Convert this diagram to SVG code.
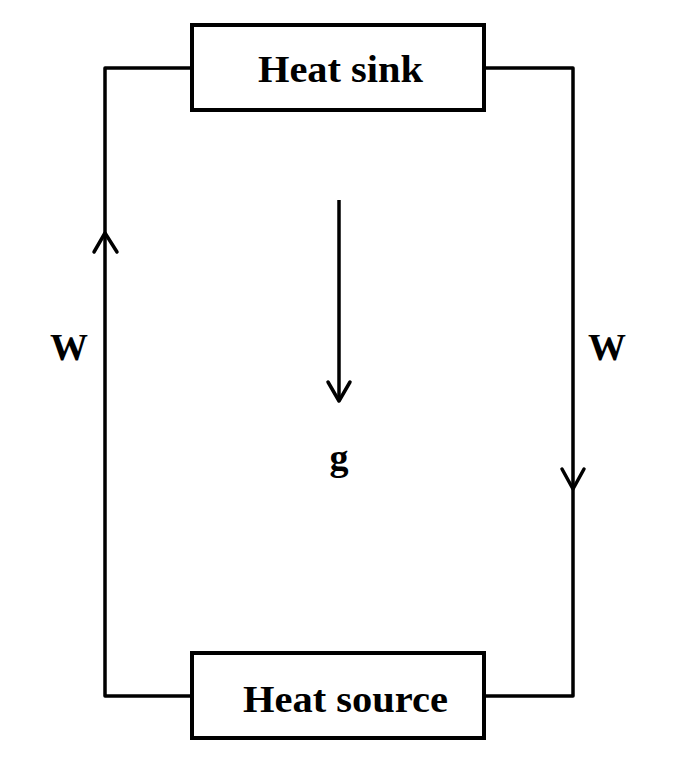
<svg xmlns="http://www.w3.org/2000/svg" width="686" height="774" viewBox="0 0 686 774">
<style>
.box{fill:#fff;stroke:#000;stroke-width:4}
.wire{fill:none;stroke:#000;stroke-width:3.5;stroke-linejoin:round}
.head{fill:none;stroke:#000;stroke-width:3.5;stroke-linecap:round;stroke-linejoin:round}
.lbl{font-family:"Liberation Serif","Times New Roman",serif;font-weight:bold;font-size:38px;fill:#000}
</style>
<rect width="686" height="774" fill="#fff"/>
<g id="connectors">
<path class="wire" d="M192,68 H105 V696 H192"/>
<path class="wire" d="M484,68 H573 V696 H484"/>
<path class="head" d="M94,252 L105,233 L117,252"/>
<path class="head" d="M562,469 L573,489 L584,469"/>
<line class="wire" x1="339" y1="200" x2="339" y2="401"/>
<path class="head" d="M328,382 L339,401 L350,382"/>
</g>
<g id="heat-sink">
<rect class="box" x="192" y="25" width="292" height="85"/>
<text class="lbl" x="258" y="82" textLength="165" lengthAdjust="spacingAndGlyphs">Heat sink</text>
</g>
<g id="heat-source">
<rect class="box" x="192" y="653" width="292" height="85"/>
<text class="lbl" x="243" y="712" textLength="205" lengthAdjust="spacingAndGlyphs">Heat source</text>
</g>
<g id="labels">
<text class="lbl" x="50" y="360">W</text>
<text class="lbl" x="588" y="360">W</text>
<text class="lbl" x="339" y="470" text-anchor="middle">g</text>
</g>
</svg>
